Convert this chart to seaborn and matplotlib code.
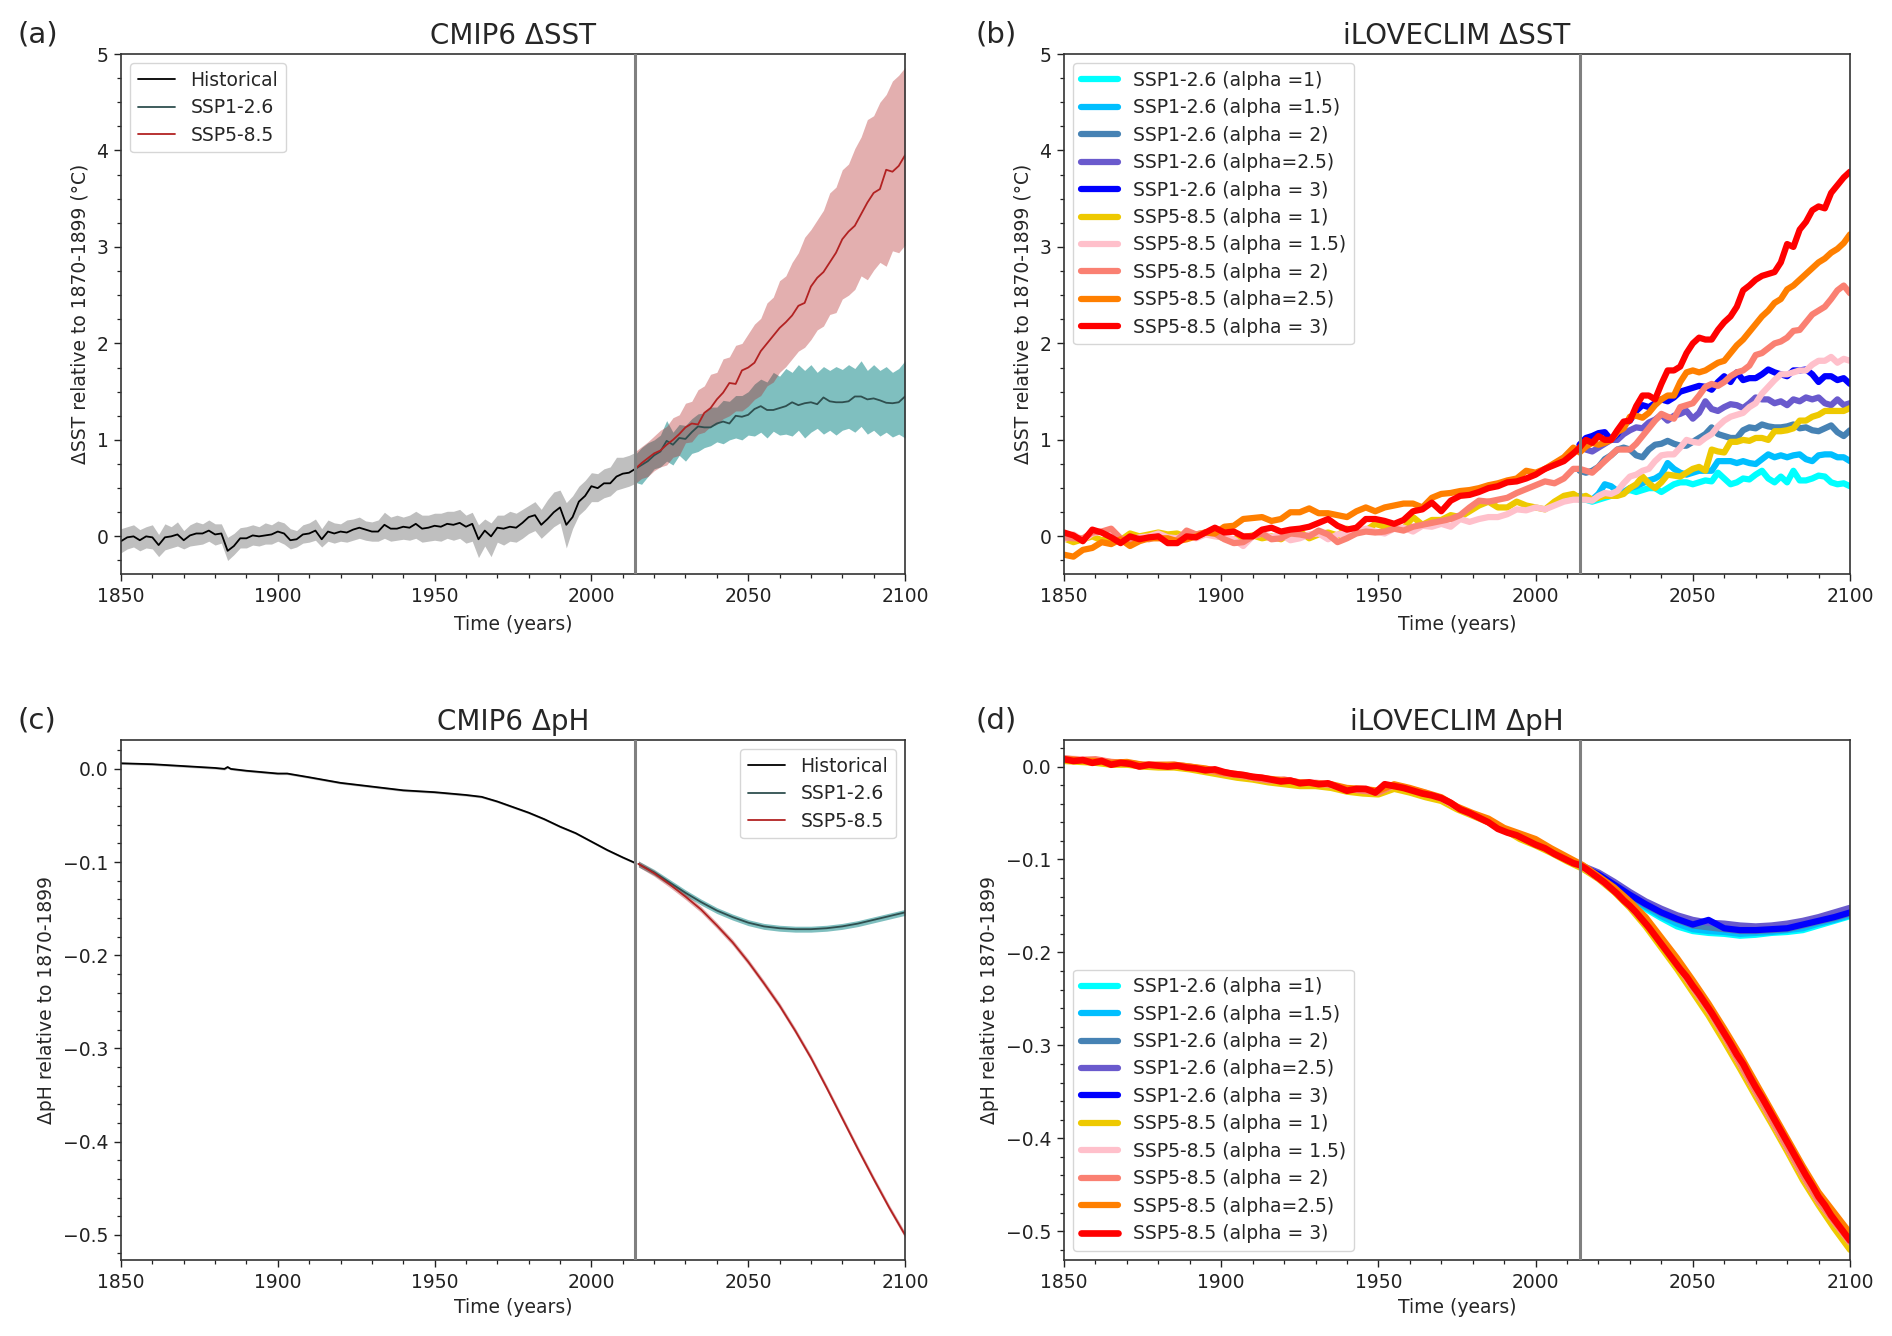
import numpy as np
import matplotlib
matplotlib.use("Agg")
import matplotlib.pyplot as plt
from matplotlib.ticker import MultipleLocator
import seaborn as sns

hist_years = np.arange(1850, 2015, 2)
proj_years = np.arange(2014, 2101, 2)
early_years = np.arange(1850, 2013, 3)
all_years = np.concatenate([early_years, proj_years])
ph_hist_years = [1850,1860,1870,1880,1883,1884,1885,1890,1900,1903,1910,1920,1930,1940,1950,1960,1965,1970,1975,1980,1985,1990,1995,2000,2005,2010,2014]
ph_proj_years = np.arange(2015, 2101, 5)
five_years = np.arange(1850, 2101, 5)

# Panel (a)
sst_hist = [-.05,-.01,0,-.04,0,-.01,-.09,-.01,0,.02,-.04,.01,.03,.03,.06,.02,.03,-.15,-.10,-.02,-.02,.01,0,.01,.02,.05,.03,-.04,-.03,.02,.03,.06,-.03,.05,.03,.05,.04,.07,.09,.07,.05,.05,.12,.08,.08,.10,.09,.13,.08,.09,.11,.10,.13,.12,.14,.10,.13,-.03,.06,0,.09,.08,.10,.09,.14,.2,.22,.12,.18,.25,.3,.12,.2,.36,.42,.52,.5,.55,.55,.62,.65,.66,.70]
sst_hist_hi = [.08,.10,.12,.07,.10,.12,.02,.13,.10,.15,.06,.12,.15,.13,.17,.13,.13,-.01,.03,.09,.10,.12,.10,.14,.12,.16,.14,.08,.06,.12,.14,.18,.08,.17,.14,.13,.17,.18,.20,.16,.15,.17,.25,.20,.22,.20,.22,.26,.22,.22,.24,.24,.26,.26,.28,.22,.25,.12,.18,.14,.22,.22,.26,.24,.28,.32,.36,.28,.38,.46,.48,.35,.42,.52,.58,.66,.65,.7,.72,.82,.82,.84,.87]
sst_hist_lo = [-.17,-.13,-.11,-.15,-.12,-.13,-.21,-.14,-.12,-.10,-.13,-.10,-.09,-.08,-.05,-.09,-.07,-.25,-.19,-.12,-.12,-.09,-.10,-.08,-.08,-.05,-.08,-.13,-.11,-.07,-.06,-.04,-.11,-.05,-.07,-.05,-.06,-.04,-.02,-.04,-.05,-.05,-.02,-.05,-.04,-.03,-.04,-.02,-.06,-.05,-.04,-.05,-.02,-.04,-.02,-.07,-.05,-.22,-.10,-.21,-.06,-.09,-.05,-.06,-.02,.03,.06,-.02,.04,.10,.14,-.12,.08,.22,.28,.36,.36,.40,.42,.48,.5,.52,.55]
sst_126 = [.70,.74,.78,.84,.88,.99,.95,1.02,1.01,1.08,1.14,1.13,1.13,1.17,1.19,1.17,1.25,1.24,1.26,1.32,1.35,1.31,1.31,1.33,1.35,1.39,1.36,1.38,1.39,1.37,1.44,1.40,1.39,1.39,1.40,1.45,1.45,1.42,1.43,1.41,1.385,1.38,1.39,1.45]
sst_126_hi = [.85,.92,.97,1.0,1.05,1.20,1.08,1.16,1.15,1.22,1.27,1.28,1.34,1.34,1.41,1.40,1.46,1.46,1.50,1.58,1.63,1.60,1.70,1.66,1.74,1.70,1.78,1.72,1.78,1.70,1.76,1.72,1.76,1.73,1.78,1.74,1.82,1.72,1.78,1.72,1.76,1.70,1.74,1.82]
sst_126_lo = [.56,.54,.62,.70,.72,.78,.74,.84,.78,.86,.88,.92,.94,.98,.96,1.0,1.02,1.0,1.05,1.04,1.08,1.02,1.09,1.05,1.06,1.04,1.10,1.02,1.08,1.12,1.06,1.10,1.05,1.10,1.12,1.08,1.14,1.06,1.10,1.04,1.08,1.03,1.06,1.02]
sst_585 = [.70,.76,.81,.86,.89,.95,1.0,1.06,1.13,1.17,1.16,1.28,1.33,1.42,1.49,1.59,1.58,1.72,1.75,1.80,1.92,2.0,2.08,2.16,2.22,2.29,2.39,2.42,2.59,2.68,2.74,2.84,2.94,3.08,3.16,3.22,3.34,3.46,3.56,3.60,3.80,3.78,3.84,3.95]
sst_585_hi = [.88,.93,.98,1.04,1.10,1.14,1.23,1.26,1.38,1.40,1.52,1.56,1.68,1.70,1.84,1.86,1.98,2.0,2.10,2.2,2.26,2.42,2.48,2.65,2.7,2.84,2.94,3.1,3.18,3.28,3.38,3.56,3.62,3.80,3.86,4.02,4.14,4.32,4.36,4.5,4.58,4.72,4.78,4.86]
sst_585_lo = [.55,.6,.62,.68,.72,.74,.82,.84,.97,.98,1.06,1.08,1.14,1.16,1.22,1.25,1.30,1.30,1.35,1.42,1.46,1.56,1.60,1.70,1.76,1.84,1.92,1.96,2.04,2.14,2.18,2.30,2.32,2.46,2.50,2.56,2.70,2.66,2.76,2.84,2.80,2.96,2.94,3.02]

# Panel (b)
b_126_a10 = [.38,.38,.36,.38,.4,.42,.44,.46,.48,.46,.48,.5,.5,.46,.5,.54,.56,.56,.54,.56,.58,.57,.66,.6,.54,.56,.6,.59,.64,.68,.6,.56,.62,.56,.68,.58,.58,.6,.63,.62,.56,.54,.55,.52]
b_126_a15 = [.42,.4,.38,.44,.54,.52,.47,.46,.5,.52,.55,.58,.6,.64,.76,.7,.66,.64,.66,.68,.68,.68,.78,.78,.78,.76,.78,.76,.75,.8,.85,.82,.84,.82,.84,.85,.8,.78,.84,.85,.85,.82,.82,.78]
b_126_a20 = [.68,.66,.68,.72,.8,.84,.9,.92,.9,.84,.82,.9,.95,.96,.99,.96,.94,.94,.98,1.02,1.06,1.13,1.06,1.04,1.02,1.02,1.1,1.13,1.12,1.16,1.14,1.13,1.13,1.14,1.16,1.12,1.13,1.1,1.09,1.12,1.15,1.08,1.04,1.1]
b_126_a25 = [.95,.9,.88,.92,.96,1.0,1.0,1.06,1.1,1.13,1.12,1.18,1.21,1.26,1.2,1.25,1.27,1.3,1.22,1.28,1.4,1.32,1.3,1.34,1.37,1.36,1.33,1.38,1.44,1.42,1.42,1.38,1.4,1.36,1.42,1.4,1.44,1.42,1.44,1.38,1.36,1.42,1.36,1.38]
b_126_a30 = [.95,1.02,1.04,1.07,1.08,1.0,1.06,1.16,1.2,1.3,1.36,1.34,1.38,1.42,1.4,1.44,1.5,1.52,1.54,1.56,1.55,1.52,1.6,1.66,1.6,1.7,1.62,1.64,1.64,1.68,1.73,1.7,1.68,1.66,1.72,1.72,1.73,1.68,1.6,1.66,1.66,1.62,1.64,1.58]
b_585_a10 = [-.02,-.06,-.03,0,-.04,-.02,-.04,.03,0,.02,.04,.02,.03,-.01,.02,.04,.01,-.02,-.03,-.01,.01,-.02,0,-.03,.03,.05,-.02,.02,.04,.01,.08,.04,.06,.13,.1,.1,.08,.2,.12,.17,.17,.22,.2,.26,.32,.36,.3,.3,.36,.32,.3,.28,.36,.42,.44,
             .4,.42,.38,.4,.42,.42,.42,.44,.5,.54,.62,.55,.5,.56,.64,.63,.62,.66,.7,.72,.68,.9,.88,.87,.98,.98,1.0,.99,1.02,1.02,1.0,1.09,1.09,1.1,1.12,1.2,1.2,1.24,1.26,1.3,1.3,1.3,1.3,1.33]
b_585_a15 = [-.03,.02,-.04,.03,.05,.02,-.03,-.04,-.01,0,.03,-.01,-.02,.03,-.02,.02,0,-.01,-.03,-.1,0,.03,-.01,.02,-.04,-.02,.02,.03,-.03,.02,.03,.05,.08,.05,.03,.08,.09,.05,.11,.1,.13,.1,.18,.15,.18,.2,.2,.23,.28,.27,.3,.28,.32,.36,.38,
             .38,.38,.37,.42,.45,.44,.47,.55,.62,.64,.68,.7,.78,.84,.85,.85,.92,1.0,.98,.97,1.02,1.06,1.14,1.2,1.24,1.26,1.28,1.34,1.38,1.48,1.55,1.62,1.68,1.68,1.7,1.72,1.72,1.78,1.82,1.82,1.86,1.8,1.84,1.82]
b_585_a20 = [-.01,-.02,-.02,.04,.05,.08,-.02,-.05,-.02,-.03,0,-.05,-.04,.06,.02,.04,.03,-.03,-.07,-.06,0,.03,-.03,-.02,.03,.02,0,.06,.02,-.06,-.02,.03,.05,.04,.05,.08,.06,.1,.12,.14,.16,.18,.22,.3,.37,.36,.38,.4,.45,.49,.53,.57,.55,.6,.7,
             .7,.68,.66,.72,.78,.84,.9,.9,.9,.96,1.04,1.12,1.2,1.27,1.24,1.22,1.34,1.36,1.38,1.46,1.55,1.58,1.56,1.6,1.66,1.7,1.72,1.77,1.88,1.9,1.95,2.0,2.02,2.06,2.13,2.14,2.22,2.3,2.34,2.38,2.46,2.55,2.6,2.52]
b_585_a25 = [-.19,-.21,-.14,-.12,-.06,-.08,-.03,-.1,-.05,-.02,-.02,-.02,-.05,-.03,0,.04,.03,.1,.11,.18,.19,.2,.16,.18,.25,.25,.29,.24,.24,.22,.2,.26,.3,.26,.3,.32,.34,.34,.3,.4,.44,.45,.47,.48,.5,.53,.55,.58,.6,.68,.66,.7,.76,.82,.92,
             .87,.93,.97,.95,.97,1.0,1.08,1.12,1.24,1.25,1.23,1.28,1.36,1.42,1.46,1.46,1.6,1.7,1.72,1.7,1.72,1.76,1.8,1.82,1.9,1.98,2.04,2.12,2.2,2.28,2.34,2.42,2.46,2.56,2.6,2.66,2.72,2.78,2.84,2.88,2.94,2.98,3.04,3.13]
b_585_a30 = [.04,.01,-.05,.07,.04,-.01,-.07,0,-.03,-.01,0,-.07,-.07,0,-.01,.04,.09,.04,.05,0,0,.07,.09,.05,.07,.08,.1,.14,.18,.11,.07,.09,.18,.18,.16,.13,.17,.26,.28,.35,.26,.37,.42,.43,.46,.5,.52,.56,.57,.6,.64,.7,.74,.78,.86,
             .92,1.0,.97,1.04,1.0,1.0,1.1,1.19,1.2,1.35,1.46,1.46,1.42,1.58,1.72,1.72,1.76,1.9,2.0,2.06,2.04,2.04,2.14,2.22,2.28,2.38,2.55,2.6,2.66,2.7,2.72,2.74,2.84,3.03,3.0,3.18,3.26,3.38,3.42,3.4,3.56,3.64,3.72,3.78]

# Panel (c)
ph_hist = [.006,.005,.003,.001,.0,.002,.0,-.002,-.005,-.005,-.009,-.015,-.019,-.023,-.025,-.028,-.03,-.035,-.041,-.047,-.054,-.062,-.069,-.078,-.087,-.095,-.101]
ph_126 = [-.102,-.111,-.122,-.133,-.143,-.152,-.159,-.165,-.169,-.171,-.172,-.172,-.171,-.169,-.166,-.162,-.158,-.154]
ph_585 = [-.102,-.112,-.124,-.137,-.151,-.168,-.186,-.207,-.23,-.254,-.281,-.31,-.342,-.375,-.408,-.44,-.471,-.5]
ph_hist_spread = 0.0012
ph_proj_spread = 0.0032

# Panel (d)
d_126_a10 = [-.11,-.119,-.13,-.142,-.153,-.163,-.172,-.177,-.179,-.18,-.182,-.181,-.179,-.178,-.176,-.171,-.166,-.161]
d_126_a15 = [-.109,-.118,-.129,-.14,-.151,-.161,-.169,-.175,-.177,-.178,-.18,-.179,-.178,-.176,-.174,-.169,-.165,-.16]
d_126_a20 = [-.108,-.117,-.128,-.139,-.149,-.158,-.165,-.171,-.173,-.175,-.177,-.177,-.176,-.175,-.171,-.167,-.163,-.158]
d_126_a25 = [-.107,-.114,-.124,-.135,-.145,-.153,-.16,-.165,-.168,-.169,-.171,-.172,-.171,-.169,-.166,-.162,-.157,-.152]
d_126_a30 = [-.108,-.116,-.127,-.138,-.148,-.157,-.164,-.17,-.165,-.174,-.176,-.176,-.175,-.174,-.17,-.166,-.162,-.157]
d_585_a10 = [.006,.005,.004,.002,.002,0,-.001,-.001,-.003,-.006,-.009,-.012,-.014,-.017,-.019,-.021,-.021,-.023,-.027,-.029,-.03,-.024,-.028,-.033,-.037,-.046,-.053,-.06,-.068,-.078,-.085,-.093,-.102,-.11,-.121,-.135,-.152,-.172,-.195,-.218,-.243,-.268,-.296,-.325,-.355,-.384,-.414,-.445,-.472,-.497,-.52]
d_585_a15 = [.009,.008,.007,.005,.004,.002,.002,.002,0,-.003,-.006,-.008,-.012,-.014,-.014,-.017,-.017,-.02,-.024,-.025,-.027,-.02,-.024,-.028,-.034,-.044,-.051,-.059,-.067,-.074,-.08,-.09,-.099,-.108,-.12,-.133,-.15,-.168,-.19,-.213,-.238,-.262,-.29,-.32,-.35,-.38,-.41,-.44,-.468,-.49,-.512]
d_585_a20 = [.009,.007,.008,.005,.004,.002,.001,.002,0,-.003,-.007,-.009,-.012,-.015,-.014,-.017,-.018,-.02,-.024,-.026,-.028,-.02,-.024,-.029,-.034,-.044,-.052,-.06,-.068,-.074,-.081,-.09,-.1,-.108,-.12,-.133,-.15,-.168,-.19,-.213,-.238,-.262,-.29,-.32,-.35,-.38,-.41,-.44,-.468,-.49,-.512]
d_585_a25 = [.008,.007,.006,.004,.005,.002,.002,.002,0,-.002,-.006,-.008,-.011,-.013,-.015,-.017,-.018,-.019,-.023,-.024,-.026,-.019,-.023,-.028,-.033,-.043,-.05,-.056,-.066,-.072,-.078,-.088,-.097,-.106,-.118,-.13,-.145,-.162,-.184,-.206,-.23,-.255,-.282,-.31,-.34,-.37,-.4,-.43,-.458,-.48,-.502]
d_585_a30 = [.008,.006,.007,.004,.006,.002,.004,.003,0,.002,.001,0,.001,-.001,-.002,-.004,-.003,-.006,-.008,-.009,-.011,-.012,-.014,-.016,-.015,-.018,-.017,-.019,-.018,-.022,-.026,-.024,-.024,-.028,-.019,-.021,-.023,-.026,-.029,-.031,-.034,-.039,-.046,-.05,-.055,-.06,-.067,-.071,-.074,-.079,-.084,-.088,-.094,-.099,-.104,
             -.106,-.11,-.115,-.12,-.125,-.131,-.137,-.144,-.15,-.157,-.165,-.173,-.182,-.191,-.2,-.209,-.218,-.226,-.236,-.245,-.255,-.265,-.276,-.287,-.298,-.31,-.32,-.333,-.345,-.356,-.368,-.38,-.392,-.404,-.416,-.428,-.44,-.451,-.463,-.472,-.483,-.492,-.501,-.51]

labels_3 = ["Historical", "SSP1-2.6", "SSP5-8.5"]
labels_10 = ["SSP1-2.6 (alpha =1)", "SSP1-2.6 (alpha =1.5)", "SSP1-2.6 (alpha = 2)", "SSP1-2.6 (alpha=2.5)", "SSP1-2.6 (alpha = 3)",
             "SSP5-8.5 (alpha = 1)", "SSP5-8.5 (alpha = 1.5)", "SSP5-8.5 (alpha = 2)", "SSP5-8.5 (alpha=2.5)", "SSP5-8.5 (alpha = 3)"]
colors_10 = ["cyan", "deepskyblue", "steelblue", "slateblue", "blue", "#EEC900", "pink", "salmon", "#FF7F00", "red"]

sns.set_style("ticks")
plt.rcParams.update({"font.family": ["DejaVu Sans"], "font.size": 13.5, "axes.edgecolor": "#333333",
                     "axes.linewidth": 1.2, "xtick.color": "#222222", "ytick.color": "#222222"})

W, H = 1892, 1336
fig = plt.figure(figsize=(W / 100, H / 100), dpi=100)
def make_ax(l, r, t, b):
    return fig.add_axes([l / W, 1 - b / H, (r - l) / W, (b - t) / H])
ax_a = make_ax(121, 905, 54, 574)
ax_b = make_ax(1064, 1850, 54, 574)
ax_c = make_ax(121, 905, 740, 1260)
ax_d = make_ax(1064, 1850, 740, 1260)

def line(ax, x, y, color, lw, label=None):
    sns.lineplot(x=np.asarray(x), y=np.asarray(y), ax=ax, color=color, linewidth=lw, label=label,
                 estimator=None, errorbar=None, legend=False)

# (a)
ax_a.fill_between(hist_years, sst_hist_lo, sst_hist_hi, color="gray", alpha=0.5, lw=0)
ax_a.fill_between(proj_years, sst_126_lo, sst_126_hi, color="teal", alpha=0.5, lw=0)
ax_a.fill_between(proj_years, sst_585_lo, sst_585_hi, color="firebrick", alpha=0.36, lw=0)
line(ax_a, hist_years, sst_hist, "black", 1.3, labels_3[0])
line(ax_a, proj_years, sst_126, "darkslategray", 1.3, labels_3[1])
line(ax_a, proj_years, sst_585, "firebrick", 1.3, labels_3[2])

# (b)
for vals, c, lab in zip([b_126_a10, b_126_a15, b_126_a20, b_126_a25, b_126_a30], colors_10[:5], labels_10[:5]):
    line(ax_b, proj_years, vals, c, 4.5, lab)
for vals, c, lab in zip([b_585_a10, b_585_a15, b_585_a20, b_585_a25, b_585_a30], colors_10[5:], labels_10[5:]):
    line(ax_b, all_years, vals, c, 4.5, lab)

# (c)
ax_c.fill_between(ph_hist_years, np.array(ph_hist) - ph_hist_spread, np.array(ph_hist) + ph_hist_spread, color="gray", alpha=0.5, lw=0)
ax_c.fill_between(ph_proj_years, np.array(ph_126) - ph_proj_spread, np.array(ph_126) + ph_proj_spread, color="teal", alpha=0.5, lw=0)
ax_c.fill_between(ph_proj_years, np.array(ph_585) - ph_proj_spread, np.array(ph_585) + ph_proj_spread, color="firebrick", alpha=0.36, lw=0)
line(ax_c, ph_hist_years, ph_hist, "black", 1.3, labels_3[0])
line(ax_c, ph_proj_years, ph_126, "darkslategray", 1.3, labels_3[1])
line(ax_c, ph_proj_years, ph_585, "firebrick", 1.3, labels_3[2])

# (d)
for vals, c, lab in zip([d_126_a10, d_126_a15, d_126_a20, d_126_a25, d_126_a30], colors_10[:5], labels_10[:5]):
    line(ax_d, ph_proj_years, vals, c, 4.5, lab)
for vals, c, lab in zip([d_585_a10, d_585_a15, d_585_a20, d_585_a25], colors_10[5:9], labels_10[5:9]):
    line(ax_d, five_years, vals, c, 4.5, lab)
line(ax_d, all_years, d_585_a30, colors_10[9], 4.8, labels_10[9])

sst_ylabel = "\u0394SST relative to 1870-1899 (\u00b0C)"
ph_ylabel = "\u0394pH relative to 1870-1899"
specs = [
    (ax_a, "CMIP6 \u0394SST", "(a)", sst_ylabel, (-0.39, 5), 1, 0.25, "upper left", 17, 6.5),
    (ax_b, "iLOVECLIM \u0394SST", "(b)", sst_ylabel, (-0.39, 5), 1, 0.25, "upper left", 975, 6.5),
    (ax_c, "CMIP6 \u0394pH", "(c)", ph_ylabel, (-0.527, 0.031), 0.1, 0.02, "upper right", 17, 5),
    (ax_d, "iLOVECLIM \u0394pH", "(d)", ph_ylabel, (-0.531, 0.0286), 0.1, 0.02, "lower left", 975, 5),
]
for ax, title, tag, ylabel, ylim, major, minor, loc, tag_x, xpad in specs:
    ax.axvline(2014, color="gray", lw=2.2, zorder=5)
    ax.set_xlim(1850, 2100)
    ax.set_ylim(*ylim)
    ax.xaxis.set_major_locator(MultipleLocator(50))
    ax.xaxis.set_minor_locator(MultipleLocator(10))
    ax.yaxis.set_major_locator(MultipleLocator(major))
    ax.yaxis.set_minor_locator(MultipleLocator(minor))
    ax.tick_params(which="major", length=5, width=1, labelsize=13.5, pad=4)
    ax.tick_params(which="minor", length=3, width=0.9)
    ax.set_xlabel("Time (years)", fontsize=13.5, labelpad=xpad)
    ax.set_ylabel(ylabel, fontsize=13.5, labelpad=5)
    ax.set_title(title, fontsize=20, pad=7)
    h, l = ax.get_legend_handles_labels()
    ax.legend(h, l, loc=loc, fontsize=13.5, frameon=True, framealpha=0.8, borderaxespad=0.5, labelspacing=0.45)
    pos = ax.get_position()
    fig.text(tag_x / W, (pos.y1 * H + 20) / H, tag, fontsize=21, ha="left", va="center")

fig.savefig("out.png", dpi=100)
